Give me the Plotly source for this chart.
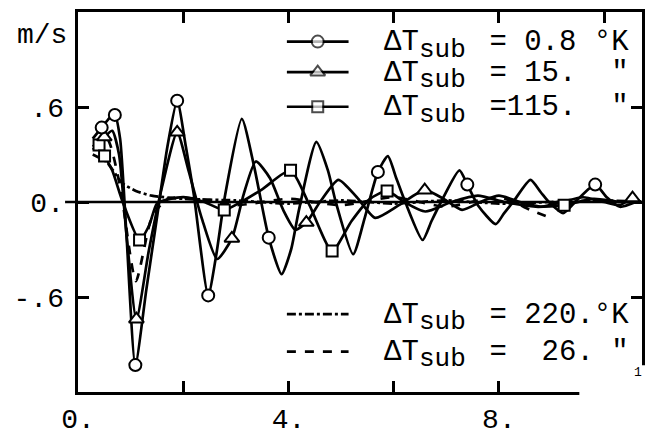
import plotly.graph_objects as go

# ---------------- data ----------------
t_08 = [0.28, 0.45, 0.60, 0.70, 0.80, 0.92, 1.09, 1.30, 1.50, 1.70, 1.885, 2.05, 2.20, 2.475,
        2.62, 2.80, 3.114, 3.35, 3.625, 3.87, 4.05, 4.20, 4.53, 4.75, 4.90, 5.23, 5.45, 5.70,
        5.89, 6.05, 6.22, 6.55, 6.72, 6.90, 7.25, 7.40, 7.60, 7.94, 8.10, 8.27, 8.60, 8.80,
        8.95, 9.22, 9.45, 9.83, 10.05, 10.30, 10.60]
v_08 = [0.40, 0.47, 0.53, 0.55, 0.40, -0.20, -1.03, -0.55, -0.10, 0.35, 0.64, 0.35, 0.05, -0.59,
        -0.35, 0.05, 0.525, 0.22, -0.225, -0.456, -0.30, -0.05, 0.38, 0.20, 0.0, -0.33, -0.10, 0.19,
        0.29, 0.15, 0.0, -0.24, -0.12, 0.0, 0.20, 0.11, -0.02, -0.14, -0.07, 0.0, 0.14, 0.06,
        0.0, -0.07, 0.0, 0.11, 0.03, -0.03, 0.0]
m_t_08 = [0.45, 0.70, 1.09, 1.885, 2.475, 3.625, 5.70, 7.40, 9.83]
m_v_08 = [0.47, 0.55, -1.03, 0.64, -0.59, -0.225, 0.19, 0.11, 0.11]

t_15 = [0.30, 0.50, 0.65, 0.78, 0.92, 1.11, 1.35, 1.60, 1.885, 2.10, 2.35, 2.645, 2.925, 3.15,
        3.38, 3.65, 3.90, 4.13, 4.34, 4.60, 4.95, 5.30, 5.65, 6.10, 6.59, 6.95, 7.30, 7.65,
        8.00, 8.40, 8.80, 9.20, 9.60, 10.00, 10.30, 10.54, 10.70]
v_15 = [0.35, 0.41, 0.45, 0.30, -0.20, -0.74, -0.30, 0.10, 0.44, 0.20, -0.10, -0.36, -0.23, 0.05,
        0.256, 0.15, -0.05, -0.175, -0.13, 0.0, 0.14, 0.03, -0.10, -0.02, 0.075, 0.02, -0.05, 0.0,
        0.04, 0.0, -0.03, 0.0, 0.03, 0.0, -0.02, 0.025, 0.0]
m_t_15 = [0.50, 1.11, 1.885, 2.925, 4.34, 6.59, 10.54]
m_v_15 = [0.41, -0.74, 0.44, -0.23, -0.13, 0.075, 0.025]

t_115 = [0.28, 0.40, 0.505, 0.65, 0.85, 1.17, 1.35, 1.50, 1.75, 2.05, 2.40, 2.78, 3.10, 3.50,
         4.04, 4.40, 4.83, 5.20, 5.55, 5.875, 6.20, 6.60, 7.10, 7.60, 8.10, 8.70, 9.24, 9.80,
         10.30, 10.70]
v_115 = [0.33, 0.36, 0.29, 0.20, 0.0, -0.24, -0.15, -0.01, 0.02, 0.03, 0.0, -0.05, 0.0, 0.08,
         0.20, -0.02, -0.31, -0.12, 0.02, 0.07, 0.0, -0.06, 0.0, 0.04, 0.0, -0.03, -0.02, 0.02,
         0.0, 0.0]
m_t_115 = [0.40, 0.505, 1.17, 2.78, 4.04, 4.83, 5.875, 9.24]
m_v_115 = [0.36, 0.29, -0.24, -0.05, 0.20, -0.31, 0.07, -0.02]

t_220 = [0.28, 0.55, 0.84, 1.10, 1.40, 2.00, 3.00, 4.00, 5.00, 6.00, 7.00, 8.00, 9.00, 10.00, 10.70]
v_220 = [0.30, 0.25, 0.12, 0.07, 0.04, 0.02, 0.01, -0.01, 0.01, -0.01, 0.01, -0.01, 0.0, 0.01, 0.0]

t_26 = [0.28, 0.55, 0.80, 1.10, 1.40, 1.70, 2.30, 3.00, 4.00, 5.00, 6.00, 7.00, 8.00, 8.60, 8.90]
v_26 = [0.35, 0.40, 0.10, -0.50, -0.10, 0.02, 0.02, -0.02, 0.02, -0.02, 0.03, -0.03, 0.03, -0.05, -0.09]

x_tickvals = [0, 2, 4, 6, 8, 10]
x_ticktext = ["0.", " ", "4.", " ", "8.", "10."]
y_tickvals = [-0.6, 0.0, 0.6]
y_ticktext = ["-.6", "0.", ".6"]

legend_values = [" = 0.8 °K", " = 15.  \"", " =115.  \"", " = 220.°K", " =  26. \""]

# ---------------- figure ----------------
FONT = "Liberation Mono, Courier New, monospace"
FS = 28
LW = 2.7
X_RANGE = [0, 10.72]
Y_RANGE = [-1.2, 1.2]

W, H = 648, 439
ML, MR, MT, MB = 78, 3, 12, 42
PW, PH = W - ML - MR, H - MT - MB

def fx(px):  # pixel -> paper fraction
    return (px - ML) / PW

def fy(py):
    return (H - MB - py) / PH

def dx(px):  # pixel -> x data (for legend sample placement)
    return X_RANGE[0] + fx(px) * (X_RANGE[1] - X_RANGE[0])

def dy(py):
    return Y_RANGE[0] + fy(py) * (Y_RANGE[1] - Y_RANGE[0])

fig = go.Figure()

def line(t, v, dash="solid"):
    return go.Scatter(x=t, y=v, mode="lines", showlegend=False, hoverinfo="skip",
                      line=dict(color="black", width=LW, shape="spline", smoothing=0.6, dash=dash))

def marks(t, v, sym, size):
    return go.Scatter(x=t, y=v, mode="markers", showlegend=False, hoverinfo="skip",
                      marker=dict(symbol=sym, size=size, color="white",
                                  line=dict(color="black", width=2)))

fig.add_trace(line(t_220, v_220, "dashdot"))
fig.add_trace(line(t_26, v_26, "dash"))
fig.add_trace(line(t_115, v_115))
fig.add_trace(line(t_15, v_15))
fig.add_trace(line(t_08, v_08))
fig.add_trace(marks(m_t_115, m_v_115, "square", 11))
fig.add_trace(marks(m_t_15, m_v_15, "triangle-up", 13))
fig.add_trace(marks(m_t_08, m_v_08, "circle", 12))

# ---------------- legend samples ----------------
sample_x = [dx(288), dx(319), dx(350)]
rows = [42, 73, 108, 318, 356]
syms = [("circle", 12), ("triangle-up", 13), ("square", 11)]
for py, (sym, sz) in zip(rows[:3], syms):
    fig.add_trace(go.Scatter(x=sample_x, y=[dy(py)] * 3,
                             mode="lines+markers", showlegend=False, hoverinfo="skip",
                             line=dict(color="black", width=LW),
                             marker=dict(symbol=sym, size=[0, sz, 0], color="white",
                                         line=dict(color="black", width=[0, 2, 0]))))
for py, dash in zip(rows[3:], ["dashdot", "dash"]):
    fig.add_trace(go.Scatter(x=[dx(288), dx(350)], y=[dy(py)] * 2,
                             mode="lines", showlegend=False, hoverinfo="skip",
                             line=dict(color="black", width=LW, dash=dash)))

CH = 17.2  # monospace advance in px
X0 = 384
annotations = []
for py, txt in zip(rows, legend_values):
    common = dict(xref="paper", yref="paper", xanchor="left", yanchor="middle", showarrow=False)
    annotations.append(dict(x=fx(X0), y=fy(py + 1), text="ΔT",
                            font=dict(family=FONT, size=29, color="black"), **common))
    annotations.append(dict(x=fx(X0 + 2 * CH), y=fy(py + 8), text="sub",
                            font=dict(family=FONT, size=26, color="black"), **common))
    annotations.append(dict(x=fx(X0 + 5 * CH + 2), y=fy(py + 1), text=txt.replace(" ", "\u00a0"),
                            font=dict(family=FONT, size=29, color="black"), **common))
annotations.append(dict(xref="paper", yref="paper", x=fx(15), y=fy(36), xanchor="left",
                        yanchor="middle", showarrow=False, text="m/s",
                        font=dict(family=FONT, size=FS, color="black")))
annotations.append(dict(xref="paper", yref="paper", x=fx(641), y=fy(377), xanchor="center",
                        yanchor="middle", showarrow=False, text="1",
                        font=dict(family=FONT, size=13, color="black")))

shapes = [
    dict(type="line", xref="paper", yref="y", x0=fx(65), x1=1, y0=0, y1=0,
         line=dict(color="black", width=LW), layer="below"),
    dict(type="rect", xref="paper", yref="paper", x0=fx(582), x1=fx(660), y0=fy(370), y1=fy(450),
         fillcolor="white", line=dict(width=0), layer="above"),
]

axis_common = dict(showline=True, linecolor="black", linewidth=LW, mirror="ticks",
                   ticks="inside", ticklen=11, tickwidth=LW, tickcolor="black",
                   showgrid=False, zeroline=False,
                   tickfont=dict(family=FONT, size=FS, color="black"))

fig.update_layout(
    width=W, height=H,
    margin=dict(l=ML, r=MR, t=MT, b=MB),
    paper_bgcolor="white", plot_bgcolor="white",
    xaxis=dict(range=X_RANGE, tickmode="array", tickvals=x_tickvals, ticktext=x_ticktext,
               **axis_common),
    yaxis=dict(range=Y_RANGE, tickmode="array", tickvals=y_tickvals,
               ticktext=[s + "\u2009" for s in y_ticktext], **axis_common),
    annotations=annotations,
    shapes=shapes,
    showlegend=False,
)

fig.write_html("out.html")
